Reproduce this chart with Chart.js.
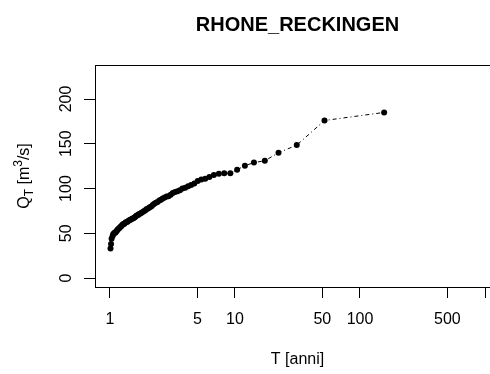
<!DOCTYPE html>
<html>
<head>
<meta charset="utf-8">
<script src="https://cdn.jsdelivr.net/npm/chart.js@4.4.1/dist/chart.umd.min.js"></script>
<style>
  html, body { margin: 0; padding: 0; overflow: hidden; background: #fff; width: 490px; height: 374px; }
  #wrap { width: 520px; height: 374px; }
  canvas { display: block; }
</style>
</head>
<body>
<div id="wrap"><canvas id="c" width="520" height="374"></canvas></div>
<script>
// ---- data ----
const chartTitle = 'RHONE_RECKINGEN';
const xAxisTitle = 'T [anni]';
const returnPeriods = [156, 52, 31.2, 22.29, 17.33, 14.18, 12.0, 10.4, 9.18, 8.21,
  7.43, 6.78, 6.24, 5.78, 5.38, 5.03, 4.73, 4.46, 4.22, 4.0,
  3.8, 3.63, 3.47, 3.32, 3.18, 3.06, 2.94, 2.84, 2.74, 2.64,
  2.56, 2.48, 2.4, 2.33, 2.26, 2.2, 2.14, 2.08, 2.03, 1.97,
  1.93, 1.88, 1.84, 1.79, 1.75, 1.71, 1.68, 1.64, 1.61, 1.58,
  1.55, 1.52, 1.49, 1.46, 1.43, 1.41, 1.38, 1.36, 1.33, 1.31,
  1.29, 1.27, 1.25, 1.23, 1.21, 1.19, 1.17, 1.15, 1.14, 1.12,
  1.11, 1.09, 1.08, 1.06, 1.05, 1.03, 1.02, 1.01];
const discharges = [185, 176, 148.5, 140, 131, 129, 125.5, 121, 117, 117,
  116.5, 115, 113, 111, 110, 108.5, 105.5, 104, 102.5, 101,
  100, 98, 97, 96, 95, 93, 91.5, 91, 90, 89,
  87.5, 86.5, 85, 84, 83, 81.5, 80, 79, 78, 77,
  76, 75, 74, 73, 72, 71.5, 70.5, 70, 69, 68,
  67, 66.5, 66, 65, 64.5, 64, 63, 62.5, 62, 61,
  60.5, 60, 59, 58, 57, 56, 55, 54, 53, 52,
  51, 50.5, 50, 49, 47, 44, 38, 33];
const xTickValues = [1, 5, 10, 50, 100, 500, 1000];
const xTickLabels = ['1', '5', '10', '50', '100', '500', ''];
const yTickValues = [0, 50, 100, 150, 200];
const yTickLabels = ['0', '50', '100', '150', '200'];

const FONT = '"Liberation Sans", Arial, sans-serif';
Chart.defaults.color = '#000';
Chart.defaults.font.family = FONT;

const points = returnPeriods.map((t, i) => ({ x: t, y: discharges[i] }));

const boxPlugin = {
  id: 'box',
  afterDraw(chart) {
    const { ctx, chartArea: a } = chart;
    ctx.save();
    ctx.strokeStyle = '#000';
    ctx.lineWidth = 1;
    ctx.strokeRect(Math.round(a.left) + 0.5, Math.round(a.top) + 0.5,
      Math.round(a.right - a.left), Math.round(a.bottom - a.top));
    // y axis title with subscript / superscript
    const cy = (a.top + a.bottom) / 2;
    ctx.translate(25, cy);
    ctx.rotate(-Math.PI / 2);
    ctx.fillStyle = '#000';
    ctx.textBaseline = 'middle';
    const big = '16px ' + FONT, small = '12px ' + FONT;
    const parts = [
      { t: 'Q', f: big, dy: 0 },
      { t: 'T', f: small, dy: 5 },
      { t: ' [m', f: big, dy: 0 },
      { t: '3', f: small, dy: -6 },
      { t: '/s]', f: big, dy: 0 }
    ];
    let total = 0;
    parts.forEach(p => { ctx.font = p.f; p.w = ctx.measureText(p.t).width; total += p.w; });
    let x = -total / 2;
    ctx.textAlign = 'left';
    parts.forEach(p => { ctx.font = p.f; ctx.fillText(p.t, x, p.dy); x += p.w; });
    ctx.restore();
  }
};

new Chart(document.getElementById('c'), {
  type: 'scatter',
  data: {
    datasets: [{
      data: points,
      showLine: true,
      borderColor: '#000',
      borderWidth: 1,
      borderDash: [1, 3, 4, 3],
      backgroundColor: '#000',
      pointBackgroundColor: '#000',
      pointBorderColor: '#000',
      pointRadius: 3,
      pointBorderWidth: 0,
      tension: 0
    }]
  },
  options: {
    responsive: false,
    animation: false,
    layout: { padding: { left: 0, right: 20, top: 0, bottom: 0 } },
    plugins: {
      legend: { display: false },
      tooltip: { enabled: false },
      title: {
        display: true,
        text: chartTitle,
        fullSize: false,
        color: '#000',
        font: { size: 20, weight: 'bold', family: FONT, lineHeight: 1.2 },
        padding: { top: 13.5, bottom: 27.5 }
      }
    },
    scales: {
      x: {
        type: 'logarithmic',
        position: 'bottom',
        min: 0.759,
        max: 1318,
        afterBuildTicks: (s) => { s.ticks = xTickValues.map(v => ({ value: v })); },
        afterFit: (s) => { s.height = 87; },
        ticks: {
          autoSkip: false,
          maxRotation: 0,
          minRotation: 0,
          padding: 12,
          font: { size: 16, family: FONT },
          color: '#000',
          callback: (v, i) => xTickLabels[i]
        },
        grid: { drawOnChartArea: false, drawTicks: true, tickLength: 11, color: '#000' },
        border: { display: true, color: '#000', width: 1 },
        title: {
          display: true,
          text: xAxisTitle,
          color: '#000',
          font: { size: 16, family: FONT, lineHeight: 1.2 },
          padding: { top: 0, bottom: 5 }
        }
      },
      y: {
        type: 'linear',
        position: 'left',
        min: -10,
        max: 238,
        afterBuildTicks: (s) => { s.ticks = yTickValues.map(v => ({ value: v })); },
        afterFit: (s) => { s.width = 95; },
        ticks: {
          autoSkip: false,
          minRotation: 90,
          maxRotation: 90,
          crossAlign: 'center',
          padding: 4,
          font: { size: 16, family: FONT },
          color: '#000',
          callback: (v, i) => yTickLabels[i]
        },
        grid: { drawOnChartArea: false, drawTicks: true, tickLength: 11, color: '#000' },
        border: { display: true, color: '#000', width: 1 }
      }
    }
  },
  plugins: [boxPlugin]
});
</script>
</body>
</html>
